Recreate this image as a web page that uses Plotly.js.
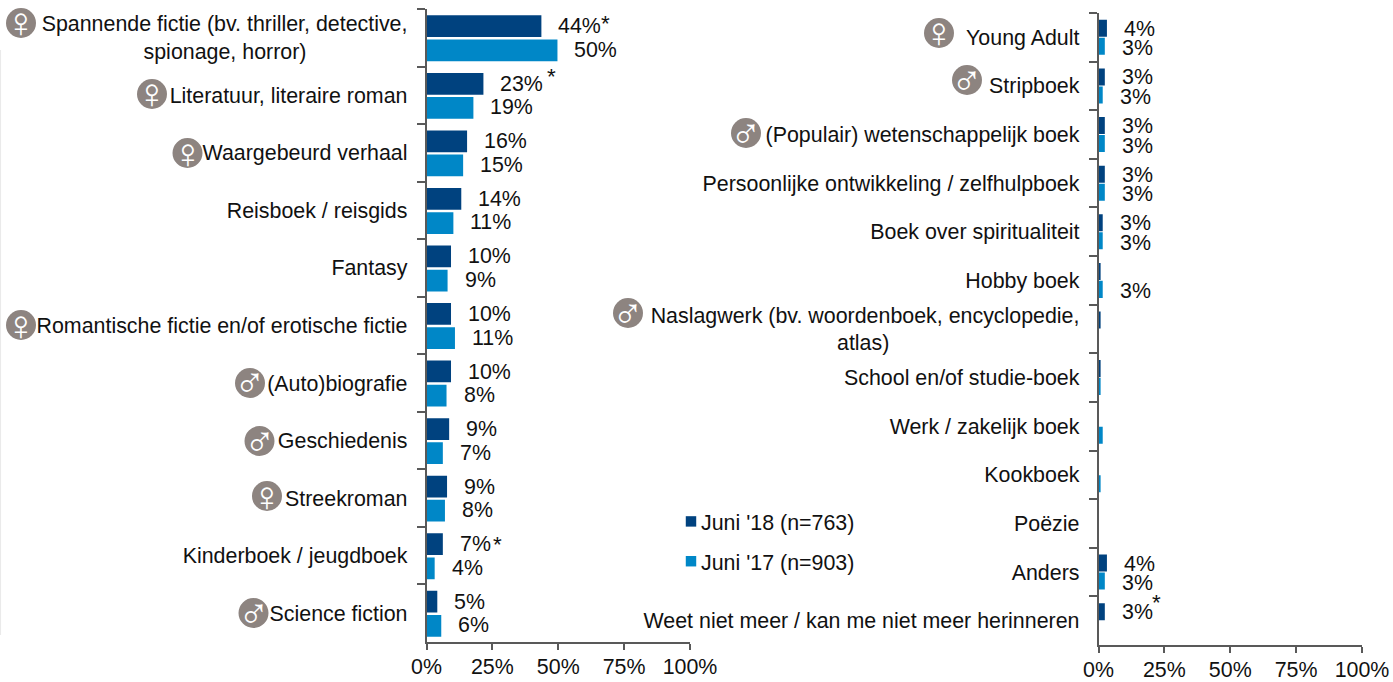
<!DOCTYPE html>
<html>
<head>
<meta charset="utf-8">
<script src="https://cdn.plot.ly/plotly-3.0.1.min.js"></script>
<style>html,body{margin:0;padding:0;background:#fff}#c{width:1393px;height:682px}</style>
</head>
<body>
<div id="c"></div>
<script>
const pad = n => '\u00a0'.repeat(n);
const leftCategories = ['Spannende fictie (bv. thriller, detective,<br>spionage, horror)' + pad(17), 'Literatuur, literaire roman', 'Waargebeurd verhaal', 'Reisboek / reisgids', 'Fantasy', 'Romantische fictie en/of erotische fictie', '(Auto)biografie', 'Geschiedenis', 'Streekroman', 'Kinderboek / jeugdboek', 'Science fiction'];
const left18 = [43.6, 21.6, 15.4, 13.2, 9.3, 9.3, 9.3, 8.6, 7.8, 6.2, 4.1];
const left17 = [49.7, 17.8, 13.9, 10.2, 8, 10.8, 7.6, 6.2, 7.0, 3.1, 5.6];
const left18Labels = ['44%', '23%', '16%', '14%', '10%', '10%', '10%', '9%', '9%', '7%', '5%'];
const left17Labels = ['50%', '19%', '15%', '11%', '9%', '11%', '8%', '7%', '8%', '4%', '6%'];

const rightCategories = ['Young Adult', 'Stripboek', '(Populair) wetenschappelijk boek', 'Persoonlijke ontwikkeling / zelfhulpboek', 'Boek over spiritualiteit', 'Hobby boek', 'Naslagwerk (bv. woordenboek, encyclopedie,<br>atlas)' + pad(32), 'School en/of studie-boek', 'Werk / zakelijk boek', 'Kookboek', 'Poëzie', 'Anders', 'Weet niet meer / kan me niet meer herinneren'];
const right18 = [3.2, 2.4, 2.4, 2.4, 1.6, 0.8, 0.8, 0.8, null, null, null, 3.2, 2.4];
const right17 = [2.4, 1.6, 2.4, 2.4, 1.6, 1.6, null, 0.8, 1.6, 0.8, null, 2.4, null];
const right18Labels = ['4%', '3%', '3%', '3%', '3%', null, null, null, null, null, null, '4%', '3%'];
const right17Labels = ['3%', '3%', '3%', '3%', '3%', '3%', null, null, null, null, null, '3%', null];

const seriesNames = ["Juni '18 (n=763)", "Juni '17 (n=903)"];
const xTicks = [0, 25, 50, 75, 100];
const xTickLabels = ['0%', '25%', '50%', '75%', '100%'];

const W = 1393, H = 682;
const FONT = 'Liberation Sans, Arial, sans-serif';
const DARK = '#00427f', LIGHT = '#0087c7', GREY = '#595959', ICON = '#8d8480', INK = '#111111';
const FS = 21.4;

const px = x => x / W, py = y => 1 - y / H;

function bar(name, cats, vals, color, xa, ya, width, offset, show) {
  return {type: 'bar', orientation: 'h', name, y: cats, x: vals, xaxis: xa, yaxis: ya, width, offset,
    marker: {color, line: {width: 0}}, showlegend: show, legendgroup: name, hoverinfo: 'x+y'};
}

const data = [
  bar(seriesNames[0], leftCategories, left18, DARK, 'x', 'y', 0.378, -0.39, true),
  bar(seriesNames[1], leftCategories, left17, LIGHT, 'x', 'y', 0.378, 0.03, true),
  bar(seriesNames[0], rightCategories, right18, DARK, 'x2', 'y2', 0.35, -0.36, false),
  bar(seriesNames[1], rightCategories, right17, LIGHT, 'x2', 'y2', 0.35, 0.01, false)
];

const annotations = [];
function addLabels(cats, vals, labels, xr, yr, shift) {
  labels.forEach((t, i) => {
    if (!t) return;
    annotations.push({xref: xr, yref: yr, x: vals[i], y: cats[i], text: t, showarrow: false,
      xanchor: 'left', yanchor: 'middle', xshift: 15, yshift: shift,
      font: {family: FONT, size: FS, color: INK}});
  });
}
addLabels(leftCategories, left18, left18Labels, 'x', 'y', 11.5);
addLabels(leftCategories, left17, left17Labels, 'x', 'y', -12);
addLabels(rightCategories, right18, right18Labels, 'x2', 'y2', 8.5);
addLabels(rightCategories, right17, right17Labels, 'x2', 'y2', -11);

[[leftCategories, left18, 0, 'x', 'y', 64, 14.5], [leftCategories, left18, 1, 'x', 'y', 68, 18.5],
 [leftCategories, left18, 9, 'x', 'y', 55, 11.5], [rightCategories, right18, 12, 'x2', 'y2', 52, 18]]
.forEach(([cats, vals, i, xr, yr, dx, dy]) => annotations.push({xref: xr, yref: yr, x: vals[i], y: cats[i], text: '*',
  showarrow: false, xanchor: 'center', yanchor: 'middle', xshift: dx, yshift: dy, font: {family: FONT, size: FS + 1, color: INK}}));

const icons = [
  ['♀', 21, 23], ['♀', 152, 94], ['♀', 187.5, 153], ['♀', 21, 325], ['♂', 250, 383], ['♂', 259.5, 441],
  ['♀', 267, 496], ['♂', 253.5, 613], ['♀', 939, 33], ['♂', 967, 80], ['♂', 746, 133], ['♂', 628, 313]
];
const R = 15;
const shapes = icons.map(([g, x, y]) => ({type: 'circle', xref: 'paper', yref: 'paper',
  x0: px(x - R), x1: px(x + R), y0: py(y + R), y1: py(y - R), fillcolor: ICON, line: {width: 0}, layer: 'below'}));
shapes.push({type: 'line', xref: 'paper', yref: 'paper', x0: 0.0004, x1: 0.0004, y0: py(50), y1: py(635), line: {color: '#e9e9e9', width: 1}});
icons.forEach(([g, x, y]) => annotations.push({xref: 'paper', yref: 'paper', x: px(x), y: py(y), text: g, showarrow: false,
  xanchor: 'center', yanchor: 'middle', font: {family: 'Liberation Sans', size: 42, color: '#ffffff'}}));

const yBase = {type: 'category', ticks: 'outside', ticklen: 8, tickwidth: 1.5, tickcolor: GREY, tickson: 'boundaries',
  showline: true, linecolor: GREY, linewidth: 1.5, showgrid: false, zeroline: false, ticklabelstandoff: 13,
  tickfont: {family: FONT, size: FS, color: INK}, automargin: false, fixedrange: true};
const xBase = {type: 'linear', range: [0, 100], tickmode: 'array', tickvals: xTicks, ticktext: xTickLabels, ticks: 'outside', ticklen: 6, tickwidth: 1.5,
  tickcolor: GREY, showline: true, linecolor: GREY, linewidth: 1.5, showgrid: false, zeroline: false, ticklabelstandoff: -1,
  tickfont: {family: FONT, size: FS, color: INK}, automargin: false, fixedrange: true};

const layout = {
  width: W, height: H, margin: {l: 0, r: 0, t: 0, b: 0}, paper_bgcolor: '#fff', plot_bgcolor: 'rgba(0,0,0,0)',
  barmode: 'overlay', font: {family: FONT, size: FS, color: INK},
  xaxis: Object.assign({}, xBase, {domain: [px(426.5), px(690)], anchor: 'y'}),
  yaxis: Object.assign({}, yBase, {domain: [py(642), py(9)], anchor: 'x', range: [10.5, -0.5], categoryorder: 'array', categoryarray: leftCategories}),
  xaxis2: Object.assign({}, xBase, {domain: [px(1098.5), px(1362)], anchor: 'y2'}),
  yaxis2: Object.assign({}, yBase, {domain: [py(645), py(13)], anchor: 'x2', range: [12.5, -0.5], categoryorder: 'array', categoryarray: rightCategories}),
  legend: {x: px(661), y: py(501), xanchor: 'left', yanchor: 'top', bgcolor: 'rgba(0,0,0,0)', traceorder: 'grouped', tracegroupgap: 9,
    font: {family: FONT, size: FS, color: INK}},
  shapes, annotations
};

Plotly.newPlot('c', data, layout, {displayModeBar: false, responsive: false}).then(gd => {
  gd.querySelectorAll('.legend .legendsymbols').forEach(s => {
    s.setAttribute('transform', 'translate(10,0)');
  });
  gd.querySelectorAll('.legend .legendpoints path').forEach(p => p.setAttribute('transform', 'translate(20,0) scale(0.87)'));
});
</script>
</body>
</html>
